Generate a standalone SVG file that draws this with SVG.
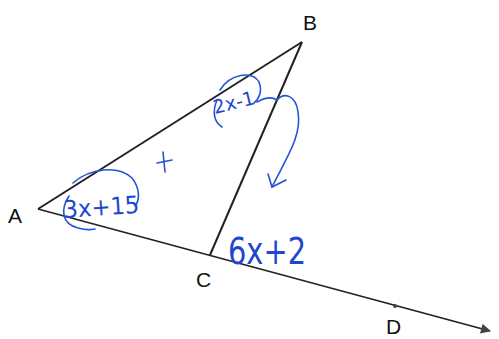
<svg xmlns="http://www.w3.org/2000/svg" width="499" height="339" viewBox="0 0 499 339">
<defs>
<style>
.ln{stroke:#222;stroke-width:2;fill:none}
.lbl{font-family:"Liberation Sans",Arial,sans-serif;font-size:21px;fill:#111}
.hw{stroke:#2553d6;stroke-width:1.6;fill:none;stroke-linecap:round}
.ht{font-family:"DejaVu Sans","Liberation Sans",sans-serif;fill:#1d47cc}
</style>
<marker id="ah" viewBox="0 0 10 10" refX="9" refY="5" markerWidth="12" markerHeight="10" orient="auto" markerUnits="userSpaceOnUse">
<path d="M0,0 L10,5 L0,10 z" fill="#444"/>
</marker>
</defs>
<rect width="499" height="339" fill="#fff"/>
<g id="connectors">
<line class="ln" x1="38" y1="209" x2="302" y2="42"/>
<line class="ln" x1="302" y1="42" x2="210" y2="255"/>
<path class="ln" d="M38,209 L490,331" marker-end="url(#ah)" style="stroke-width:1.8"/>
<circle cx="395" cy="306" r="2" fill="#444"/>
</g>
<g id="A"><text class="lbl" x="8" y="223">A</text></g>
<g id="B"><text class="lbl" x="303" y="30">B</text></g>
<g id="C"><text class="lbl" x="196" y="287">C</text></g>
<g id="D"><text class="lbl" x="386" y="334">D</text></g>
<g id="annotations">
<path class="hw" d="M73,183 C90,168 118,165 132,178 C140,188 140,200 135,206"/>
<path class="hw" d="M69,196 C60,210 62,224 78,228 C85,230 90,230 95,229"/>
<text class="ht" x="64" y="218" font-size="24" textLength="76" lengthAdjust="spacingAndGlyphs" transform="rotate(-4 64 218)">3x+15</text>
<path class="hw" d="M157,163 L172,160 M163,152 L165,172"/>
<path class="hw" d="M220,90 C230,74 252,70 259,82 C263,92 258,100 254,103"/>
<path class="hw" d="M217,100 C212,112 214,122 222,127"/>
<text class="ht" x="215" y="114" font-size="19" textLength="42" lengthAdjust="spacingAndGlyphs" transform="rotate(-14 215 114)">2x-1</text>
<path class="hw" d="M257,102 C264,98 271,96 277,100 C284,92 296,95 298,112 C302,135 288,155 272,187"/>
<path class="hw" d="M268,174 L272,187 L286,180"/>
<text class="ht" x="228" y="264" font-size="38" textLength="78" lengthAdjust="spacingAndGlyphs">6x+2</text>
</g>
</svg>
